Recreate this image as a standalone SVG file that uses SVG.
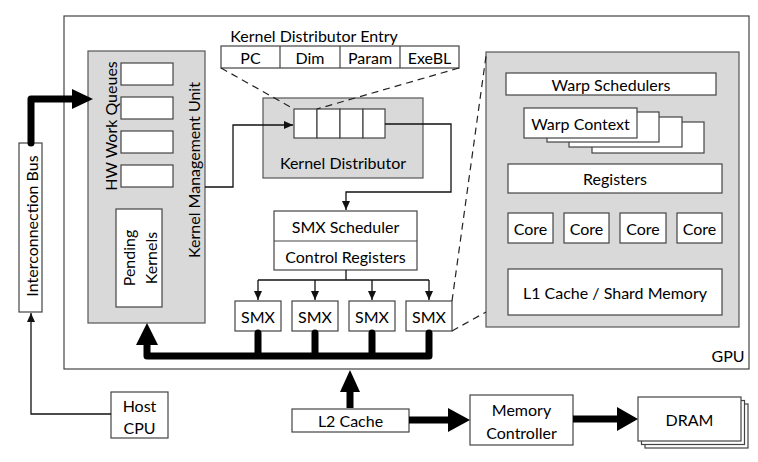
<svg xmlns="http://www.w3.org/2000/svg" width="758" height="462" viewBox="0 0 758 462">
<defs>
<marker id="ah" markerWidth="10" markerHeight="10" refX="9" refY="5" orient="auto" markerUnits="userSpaceOnUse">
<path d="M0,1 L9,5 L0,9 z" fill="#111"/>
</marker>
<style>
.b{fill:#fff;stroke:#444;stroke-width:1.2}
.g{fill:#d9d9d9;stroke:#555;stroke-width:1.2}
.t{font-family:Lato,"Liberation Sans",sans-serif;font-size:16px;fill:#000;text-anchor:middle;dominant-baseline:central}
.thin{fill:none;stroke:#111;stroke-width:1.3}
.thick{fill:none;stroke:#000;stroke-width:7;stroke-linejoin:round;stroke-linecap:round}
.dash{fill:none;stroke:#222;stroke-width:1.2;stroke-dasharray:7,5}
</style>
</defs>
<rect width="758" height="462" fill="#fff"/>

<g id="gpu">
<rect class="b" x="64" y="16" width="685" height="353"/>
<text class="t" x="728" y="355">GPU</text>
</g>

<g id="interconnection-bus">
<rect class="b" x="19" y="143" width="23" height="169"/>
<text class="t" transform="translate(31,226) rotate(-90)">Interconnection Bus</text>
</g>

<g id="kmu">
<rect class="g" x="88" y="51" width="117" height="272"/>
<text class="t" transform="translate(110,126) rotate(-90)">HW Work Queues</text>
<text class="t" transform="translate(193,170) rotate(-90)">Kernel Management Unit</text>
<rect class="b" x="121" y="63" width="52" height="22"/>
<rect class="b" x="121" y="97" width="52" height="22"/>
<rect class="b" x="121" y="131" width="52" height="22"/>
<rect class="b" x="121" y="165" width="52" height="22"/>
</g>

<g id="pending-kernels">
<rect class="b" x="116" y="209" width="46" height="98"/>
<text class="t" transform="translate(128,258) rotate(-90)">Pending</text>
<text class="t" transform="translate(150,258) rotate(-90)">Kernels</text>
</g>

<g id="kde">
<text class="t" x="314" y="35">Kernel Distributor Entry</text>
<rect class="b" x="221" y="46" width="238" height="22"/>
<line x1="280" y1="46" x2="280" y2="68" stroke="#444" stroke-width="1.2"/>
<line x1="340" y1="46" x2="340" y2="68" stroke="#444" stroke-width="1.2"/>
<line x1="400" y1="46" x2="400" y2="68" stroke="#444" stroke-width="1.2"/>
<text class="t" x="250.5" y="57">PC</text>
<text class="t" x="310" y="57">Dim</text>
<text class="t" x="370" y="57">Param</text>
<text class="t" x="429.5" y="57">ExeBL</text>
</g>

<g id="kernel-distributor">
<rect class="g" x="263" y="98" width="160" height="80"/>
<rect class="b" x="294" y="109" width="23" height="29"/>
<rect class="b" x="317" y="109" width="23" height="29"/>
<rect class="b" x="340" y="109" width="23" height="29"/>
<rect class="b" x="363" y="109" width="22" height="29"/>
<text class="t" x="343" y="162">Kernel Distributor</text>
</g>

<g id="smx-scheduler">
<rect class="b" x="274" y="211" width="143" height="59"/>
<line x1="274" y1="241" x2="417" y2="241" stroke="#444" stroke-width="1.2"/>
<text class="t" x="345.5" y="226">SMX Scheduler</text>
<text class="t" x="345.5" y="256">Control Registers</text>
</g>

<g id="smx1"><rect class="b" x="235" y="301" width="46" height="30"/><text class="t" x="258" y="316">SMX</text></g>
<g id="smx2"><rect class="b" x="292" y="301" width="46" height="30"/><text class="t" x="315" y="316">SMX</text></g>
<g id="smx3"><rect class="b" x="349" y="301" width="46" height="30"/><text class="t" x="372" y="316">SMX</text></g>
<g id="smx4"><rect class="b" x="406" y="301" width="46" height="30"/><text class="t" x="429" y="316">SMX</text></g>

<g id="smx-detail">
<rect class="g" x="486" y="52" width="253" height="275"/>
<rect class="b" x="506" y="73" width="210" height="22"/>
<text class="t" x="611" y="84">Warp Schedulers</text>
<rect class="b" x="592" y="122" width="112" height="31"/>
<rect class="b" x="569" y="117" width="113" height="30"/>
<rect class="b" x="547" y="112" width="112" height="30"/>
<rect class="b" x="524" y="108" width="113" height="30"/>
<text class="t" x="580.5" y="123">Warp Context</text>
<rect class="b" x="508" y="164" width="214" height="29"/>
<text class="t" x="615" y="178.5">Registers</text>
<rect class="b" x="508" y="213" width="45" height="30"/><text class="t" x="530.5" y="228">Core</text>
<rect class="b" x="564" y="213" width="45" height="30"/><text class="t" x="586.5" y="228">Core</text>
<rect class="b" x="620" y="213" width="46" height="30"/><text class="t" x="643" y="228">Core</text>
<rect class="b" x="677" y="213" width="45" height="30"/><text class="t" x="699.5" y="228">Core</text>
<rect class="b" x="508" y="269" width="214" height="46"/>
<text class="t" x="615" y="292">L1 Cache / Shard Memory</text>
</g>

<g id="host-cpu">
<rect class="b" x="111" y="392" width="57" height="46"/>
<text class="t" x="139.5" y="405">Host</text>
<text class="t" x="139.5" y="427">CPU</text>
</g>

<g id="l2-cache">
<rect class="b" x="292" y="409" width="117" height="23"/>
<text class="t" x="350.5" y="420.5">L2 Cache</text>
</g>

<g id="memory-controller">
<rect class="b" x="470" y="395" width="103" height="50"/>
<text class="t" x="521.5" y="409">Memory</text>
<text class="t" x="521.5" y="432">Controller</text>
</g>

<g id="dram">
<rect class="b" x="645" y="404" width="103" height="44"/>
<rect class="b" x="641.5" y="400.5" width="103" height="44"/>
<rect class="b" x="638" y="397" width="103" height="44"/>
<text class="t" x="689.5" y="419">DRAM</text>
</g>

<g id="connectors">
<line class="dash" x1="221" y1="68" x2="294" y2="109"/>
<line class="dash" x1="459" y1="68" x2="317" y2="109"/>
<line class="dash" x1="452" y1="301" x2="486" y2="56"/>
<line class="dash" x1="452" y1="331" x2="486" y2="312"/>

<polyline class="thin" points="205,187 233,187 233,125 293,125" marker-end="url(#ah)"/>
<polyline class="thin" points="385,124 451,124 451,192 346,192 346,210" marker-end="url(#ah)"/>
<polyline class="thin" points="346,270 346,280"/>
<polyline class="thin" points="258,280 429,280"/>
<line class="thin" x1="258" y1="280" x2="258" y2="300" marker-end="url(#ah)"/>
<line class="thin" x1="315" y1="280" x2="315" y2="300" marker-end="url(#ah)"/>
<line class="thin" x1="372" y1="280" x2="372" y2="300" marker-end="url(#ah)"/>
<line class="thin" x1="429" y1="280" x2="429" y2="300" marker-end="url(#ah)"/>
<polyline class="thin" points="111,414 31,414 31,313" marker-end="url(#ah)"/>

<path class="thick" d="M31,143 V99 H74"/>
<polygon points="72,89 93,99 72,109" fill="#000"/>

<path class="thick" d="M258,333 V356 M315,333 V356 M372,333 V356 M429,333 V356 H147 V343"/>
<polygon points="136,345 147,323 158,345" fill="#000"/>

<path d="M350,408 V390" stroke="#000" stroke-width="7" fill="none"/>
<polygon points="340,392 350,370 360,392" fill="#000"/>

<path d="M409,420 H450" stroke="#000" stroke-width="7" fill="none"/>
<polygon points="448,408 470,420 448,432" fill="#000"/>

<path d="M573,419 H619" stroke="#000" stroke-width="7" fill="none"/>
<polygon points="617,407 638,419 617,431" fill="#000"/>
</g>
</svg>
